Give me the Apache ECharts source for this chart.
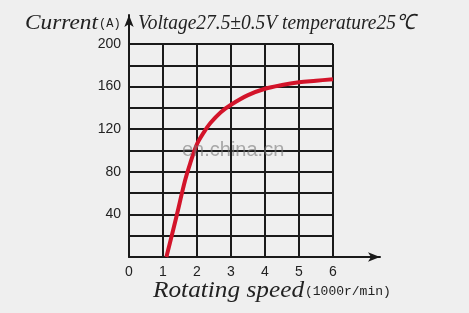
<!DOCTYPE html>
<html><head><meta charset="utf-8">
<script src="https://cdn.jsdelivr.net/npm/echarts@6/dist/echarts.min.js"></script>
<style>html,body{margin:0;padding:0;background:#efefef}#c{width:469px;height:313px}</style>
</head><body><div id="c"></div>
<script>
const speed = [1.1, 1.38, 1.65, 1.8, 2.0, 2.2, 2.4, 2.7, 3.0, 3.5, 4.0, 4.5, 5.0, 5.5, 6.0];
const current = [0, 36, 72, 88, 106, 117, 126, 136, 143, 152, 158, 161.5, 164, 165.5, 167];
const xTicks = [0, 1, 2, 3, 4, 5, 6];
const yLabels = [40, 80, 120, 160, 200];

const chart = echarts.init(document.getElementById('c'));
const gridStyle = {color: '#1a1a1a', width: 2};
const serifIt = '"Liberation Serif", serif';
chart.setOption({
  backgroundColor: '#efefef',
  animation: false,
  grid: [
    {left: 129, right: 136, top: 44, bottom: 56},
    {left: 129, right: 89, top: 15, bottom: 56}
  ],
  xAxis: [
    {type: 'value', gridIndex: 0, min: xTicks[0], max: xTicks[xTicks.length - 1], interval: 1,
     axisLine: {show: false}, axisTick: {show: false},
     splitLine: {show: true, lineStyle: gridStyle},
     axisLabel: {color: '#222', fontSize: 14, fontFamily: 'Liberation Sans, Arial', margin: 8}},
    {type: 'value', gridIndex: 1, min: 0, max: 1,
     axisLine: {show: true, symbol: ['none', 'arrow'], symbolSize: [7, 12], lineStyle: {color: '#1a1a1a', width: 2}},
     axisTick: {show: false}, splitLine: {show: false}, axisLabel: {show: false}}
  ],
  yAxis: [
    {type: 'value', gridIndex: 0, min: 0, max: 200, interval: 20,
     axisLine: {show: false}, axisTick: {show: false},
     splitLine: {show: true, lineStyle: gridStyle},
     axisLabel: {color: '#222', fontSize: 14, fontFamily: 'Liberation Sans, Arial', margin: 8,
       formatter: v => yLabels.includes(v) ? String(v) : ''}},
    {type: 'value', gridIndex: 1, min: 0, max: 1,
     axisLine: {show: true, symbol: ['none', 'arrow'], symbolSize: [7, 12], lineStyle: {color: '#1a1a1a', width: 2}},
     axisTick: {show: false}, splitLine: {show: false}, axisLabel: {show: false}}
  ],
  series: [{
    type: 'line', xAxisIndex: 0, yAxisIndex: 0, smooth: 0.35, showSymbol: false,
    lineStyle: {color: '#d3142a', width: 4},
    data: speed.map((s, i) => [s, current[i]]), z: 5
  }],
  graphic: [
    {type: 'text', x: 25, y: 23, scaleX: 1.06, style: {text: 'Current', font: 'italic 22px ' + serifIt, fill: '#222', verticalAlign: 'middle'}},
    {type: 'text', x: 99, y: 24, style: {text: '(A)', font: '12px "Liberation Mono", monospace', fill: '#222', verticalAlign: 'middle'}},
    {type: 'text', x: 138, y: 23, scaleX: 0.926, style: {text: 'Voltage27.5±0.5V temperature25℃', font: 'italic 21px ' + serifIt, fill: '#222', verticalAlign: 'middle'}},
    {type: 'text', x: 153, y: 291, scaleX: 1.1, style: {text: 'Rotating speed', font: 'italic 23px ' + serifIt, fill: '#222', verticalAlign: 'middle'}},
    {type: 'text', x: 305, y: 292, style: {text: '(1000r/min)', font: '13px "Liberation Mono", monospace', fill: '#222', verticalAlign: 'middle'}},
    {type: 'text', x: 182, y: 150, z: 10, style: {text: 'en.china.cn', font: '20px "Liberation Sans", Arial', fill: 'rgba(120,120,120,0.6)', verticalAlign: 'middle'}}
  ]
});
</script></body></html>
